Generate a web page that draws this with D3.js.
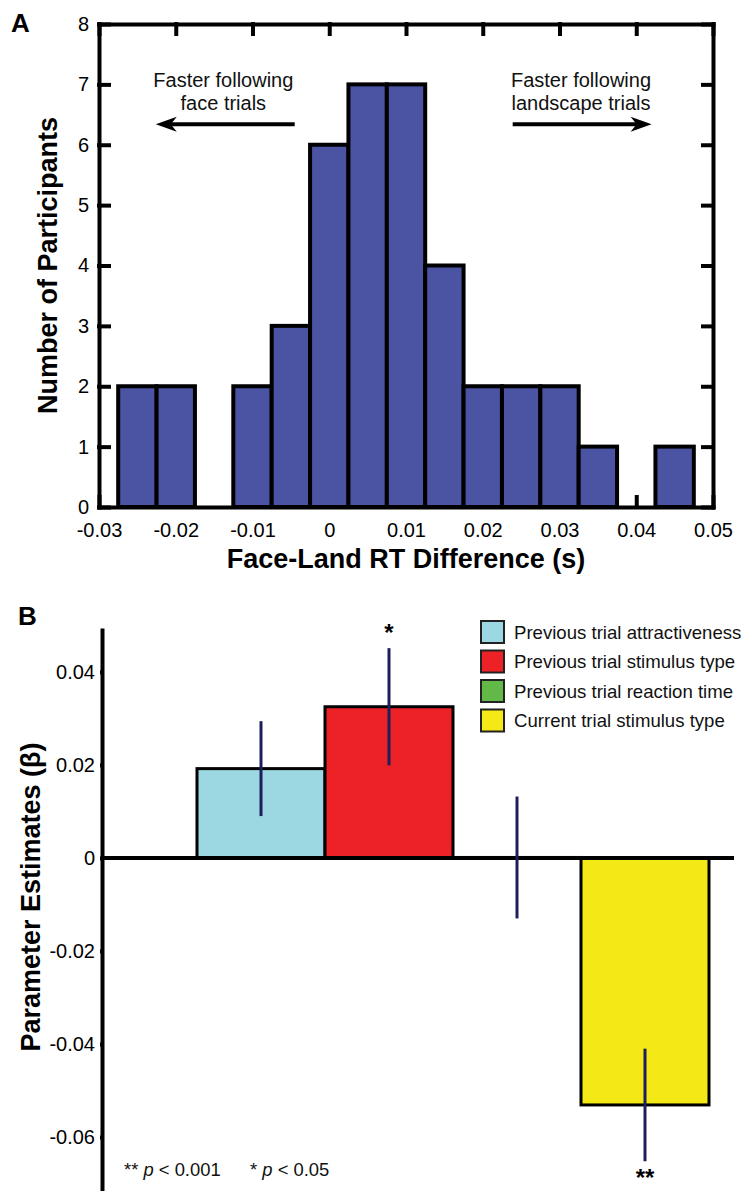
<!DOCTYPE html>
<html>
<head>
<meta charset="utf-8">
<script src="https://cdn.jsdelivr.net/npm/d3@7"></script>
<style>
body { margin: 0; background: #fff; }
svg text { font-family: "Liberation Sans", Arial, sans-serif; }
</style>
</head>
<body>
<script>
// Panel A: histogram of face-land RT differences
var binCenters = [-0.025, -0.02, -0.015, -0.01, -0.005, 0, 0.005, 0.01, 0.015, 0.02, 0.025, 0.03, 0.035, 0.04, 0.045];
var binCounts = [2, 2, 0, 2, 3, 6, 7, 7, 4, 2, 2, 2, 1, 0, 1];
var binWidth = 0.005;
var histXTicks = [-0.03, -0.02, -0.01, 0, 0.01, 0.02, 0.03, 0.04, 0.05];
var histYTicks = [0, 1, 2, 3, 4, 5, 6, 7, 8];

// Panel B: parameter estimates
var predictors = ['Previous trial attractiveness', 'Previous trial stimulus type', 'Previous trial reaction time', 'Current trial stimulus type'];
var estimates = [0.0192, 0.0325, 0.0001, -0.0531];
var errors = [0.0102, 0.0126, 0.0131, 0.0121];
var signif = ['', '*', '', '**'];
var predColors = ['#9bd8e2', '#ec2227', '#63b947', '#f4e816'];
var betaTicks = [0.04, 0.02, 0, -0.02, -0.04, -0.06];

var w = 748;
var h = 1191;

var svg = d3.select('body')
	.append('svg')
	.attr('width', w)
	.attr('height', h);

function fmt(d) {
	return d === 0 ? '0' : d.toFixed(2);
}

// ---------- Panel A ----------
var x = d3.scaleLinear().domain([-0.03, 0.05]).range([99, 713]);
var y = d3.scaleLinear().domain([0, 8]).range([507, 24]);

var gA = svg.append('g');

function styleAxis(g) {
	g.attr('font-size', 20)
		.attr('font-family', '"Liberation Sans", Arial, sans-serif');
	g.selectAll('.domain, .tick line')
		.attr('stroke', '#000')
		.attr('stroke-width', 4)
		.attr('stroke-linecap', 'square');
	g.selectAll('text').attr('fill', '#000');
}

gA.append('g')
	.attr('transform', 'translate(0,' + y(0) + ')')
	.call(d3.axisBottom(x).tickValues(histXTicks).tickFormat(fmt)
		.tickSizeInner(-10).tickSizeOuter(0).tickPadding(16))
	.call(styleAxis);

gA.append('g')
	.attr('transform', 'translate(0,' + y(8) + ')')
	.call(d3.axisTop(x).tickValues(histXTicks).tickFormat('')
		.tickSizeInner(-10).tickSizeOuter(0))
	.call(styleAxis);

gA.append('g')
	.attr('transform', 'translate(' + x(-0.03) + ',0)')
	.call(d3.axisLeft(y).tickValues(histYTicks)
		.tickSizeInner(-10).tickSizeOuter(0).tickPadding(10))
	.call(styleAxis);

gA.append('g')
	.attr('transform', 'translate(' + x(0.05) + ',0)')
	.call(d3.axisRight(y).tickValues(histYTicks).tickFormat('')
		.tickSizeInner(-10).tickSizeOuter(0))
	.call(styleAxis);

// Histogram bars
var bins = binCenters.map(function(c, i) { return { c: c, n: binCounts[i] }; })
	.filter(function(d) { return d.n > 0; });

gA.selectAll('rect.bin')
	.data(bins)
	.enter()
	.append('rect')
	.attr('class', 'bin')
	.attr('x', function(d) { return x(d.c - binWidth / 2); })
	.attr('y', function(d) { return y(d.n); })
	.attr('width', function(d) { return x(d.c + binWidth / 2) - x(d.c - binWidth / 2); })
	.attr('height', function(d) { return y(0) - y(d.n); })
	.attr('fill', '#4b53a3')
	.attr('stroke', '#000')
	.attr('stroke-width', 4);

// Direction annotations
var notes = [
	{ lines: ['Faster following', 'face trials'], cx: -0.0138, from: -0.0045, to: -0.0226 },
	{ lines: ['Faster following', 'landscape trials'], cx: 0.0328, from: 0.0239, to: 0.0420 }
];
var arrowY = y(6.34);

notes.forEach(function(n) {
	n.lines.forEach(function(t, i) {
		gA.append('text')
			.attr('x', x(n.cx))
			.attr('y', arrowY - 37 + i * 23)
			.attr('text-anchor', 'middle')
			.attr('font-size', 20)
			.attr('fill', '#111')
			.text(t);
	});
	var x0 = x(n.from), x1 = x(n.to);
	var dir = x1 > x0 ? 1 : -1;
	gA.append('line')
		.attr('x1', x0).attr('x2', x1 - dir * 12)
		.attr('y1', arrowY).attr('y2', arrowY)
		.attr('stroke', '#000')
		.attr('stroke-width', 4);
	gA.append('path')
		.attr('d', 'M' + x1 + ',' + arrowY +
			'L' + (x1 - dir * 21) + ',' + (arrowY - 7.5) +
			'L' + (x1 - dir * 15) + ',' + arrowY +
			'L' + (x1 - dir * 21) + ',' + (arrowY + 7.5) + 'Z')
		.attr('fill', '#000');
});

gA.append('text')
	.attr('x', 11).attr('y', 32)
	.attr('font-size', 26).attr('font-weight', 'bold')
	.text('A');

gA.append('text')
	.attr('transform', 'translate(57,' + ((y(0) + y(8)) / 2) + ') rotate(-90)')
	.attr('text-anchor', 'middle')
	.attr('font-size', 27).attr('font-weight', 'bold')
	.text('Number of Participants');

gA.append('text')
	.attr('x', (x(-0.03) + x(0.05)) / 2).attr('y', 568)
	.attr('text-anchor', 'middle')
	.attr('font-size', 27).attr('font-weight', 'bold')
	.text('Face-Land RT Difference (s)');

// ---------- Panel B ----------
var yb = d3.scaleLinear().domain([-0.0716, 0.049]).range([1191, 630]);
var xb = d3.scaleBand().domain(predictors).range([197, 709]).padding(0);
var axisX = 102;

var gB = svg.append('g');

gB.append('g')
	.attr('transform', 'translate(' + axisX + ',0)')
	.call(d3.axisLeft(yb).tickValues(betaTicks).tickFormat(fmt)
		.tickSize(0).tickPadding(7))
	.call(styleAxis);

// Bars
gB.selectAll('rect.est')
	.data(predictors)
	.enter()
	.append('rect')
	.attr('class', 'est')
	.attr('x', function(d) { return xb(d); })
	.attr('y', function(d, i) { return yb(Math.max(estimates[i], 0)); })
	.attr('width', xb.bandwidth())
	.attr('height', function(d, i) { return Math.abs(yb(estimates[i]) - yb(0)); })
	.attr('fill', function(d, i) { return predColors[i]; })
	.attr('stroke', '#000')
	.attr('stroke-width', 3);

// Zero line
gB.append('line')
	.attr('x1', axisX).attr('x2', 734)
	.attr('y1', yb(0)).attr('y2', yb(0))
	.attr('stroke', '#000')
	.attr('stroke-width', 4);

// Error bars
gB.selectAll('line.err')
	.data(predictors)
	.enter()
	.append('line')
	.attr('class', 'err')
	.attr('x1', function(d) { return xb(d) + xb.bandwidth() / 2; })
	.attr('x2', function(d) { return xb(d) + xb.bandwidth() / 2; })
	.attr('y1', function(d, i) { return yb(estimates[i] + errors[i]); })
	.attr('y2', function(d, i) { return yb(estimates[i] - errors[i]); })
	.attr('stroke', '#1d1f5c')
	.attr('stroke-width', 3);

// Significance stars
gB.selectAll('text.sig')
	.data(predictors)
	.enter()
	.append('text')
	.attr('class', 'sig')
	.attr('x', function(d) { return xb(d) + xb.bandwidth() / 2; })
	.attr('y', function(d, i) {
		return estimates[i] >= 0 ? yb(estimates[i] + errors[i]) - 7 : yb(estimates[i] - errors[i]) + 25;
	})
	.attr('text-anchor', 'middle')
	.attr('font-size', 24)
	.attr('font-weight', 'bold')
	.text(function(d, i) { return signif[i]; });

// Legend
var legend = gB.selectAll('g.leg')
	.data(predictors)
	.enter()
	.append('g')
	.attr('class', 'leg')
	.attr('transform', function(d, i) { return 'translate(481,' + (632 + i * 29.5) + ')'; });

legend.append('rect')
	.attr('x', 0).attr('y', -11)
	.attr('width', 23).attr('height', 22)
	.attr('fill', function(d, i) { return predColors[i]; })
	.attr('stroke', '#222')
	.attr('stroke-width', 2);

legend.append('text')
	.attr('x', 33).attr('y', 6.5)
	.attr('font-size', 18.6)
	.attr('fill', '#111')
	.text(function(d) { return d; });

// p-value footnote
var foot = [
	{ x: 124, stars: '** ', rest: ' < 0.001' },
	{ x: 250, stars: '* ', rest: ' < 0.05' }
];
foot.forEach(function(f) {
	var t = gB.append('text')
		.attr('x', f.x).attr('y', 1176)
		.attr('font-size', 18.4)
		.attr('fill', '#111');
	t.append('tspan').text(f.stars);
	t.append('tspan').attr('font-style', 'italic').text('p');
	t.append('tspan').text(f.rest);
});

gB.append('text')
	.attr('x', 18).attr('y', 625)
	.attr('font-size', 26).attr('font-weight', 'bold')
	.text('B');

gB.append('text')
	.attr('transform', 'translate(40,897) rotate(-90)')
	.attr('text-anchor', 'middle')
	.attr('font-size', 27).attr('font-weight', 'bold')
	.text('Parameter Estimates (β)');
</script>
</body>
</html>
